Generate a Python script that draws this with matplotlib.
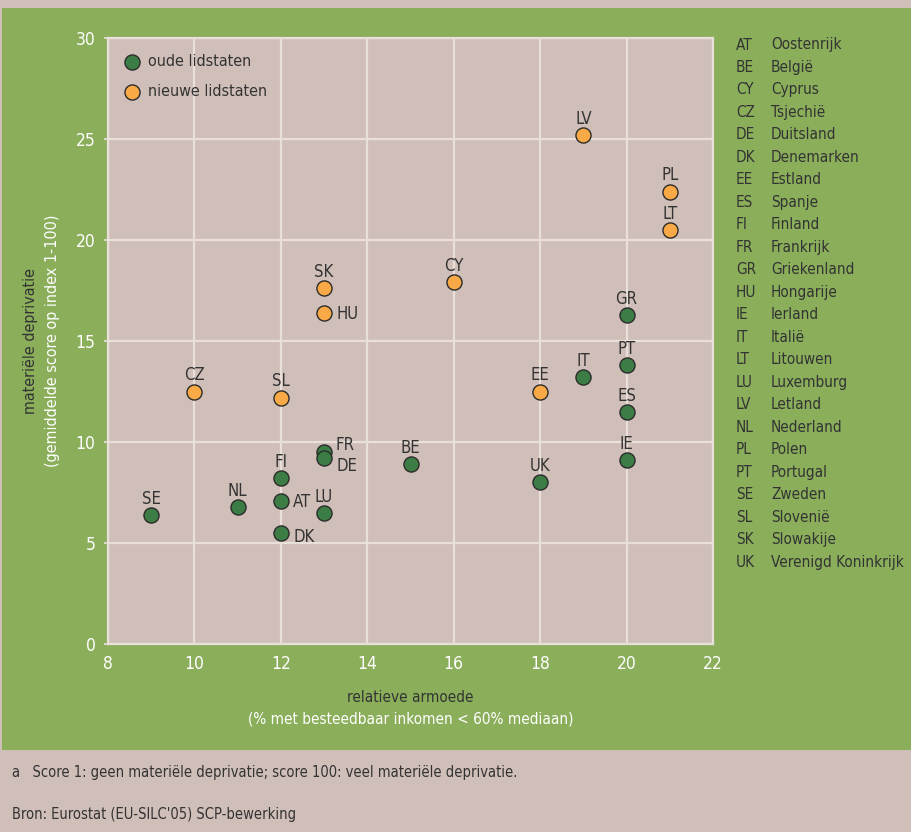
import matplotlib
matplotlib.use("Agg")
import matplotlib.pyplot as plt
from matplotlib.patches import Rectangle

plt.rcParams['font.family'] = ['DejaVu Sans']
plt.rcParams['font.stretch'] = 'condensed'

# ---- data ----
codes = ["SE", "NL", "FI", "AT", "DK", "LU", "FR", "DE", "BE", "UK", "IE", "ES", "PT", "GR", "IT",
         "CZ", "SL", "SK", "HU", "CY", "EE", "LV", "PL", "LT"]
armoede = [9, 11, 12, 12, 12, 13, 13, 13, 15, 18, 20, 20, 20, 20, 19,
           10, 12, 13, 13, 16, 18, 19, 21, 21]
deprivatie = [6.4, 6.8, 8.2, 7.1, 5.5, 6.5, 9.5, 9.2, 8.9, 8.0, 9.1, 11.5, 13.8, 16.3, 13.2,
              12.5, 12.2, 17.6, 16.4, 17.9, 12.5, 25.2, 22.4, 20.5]
groep = ["oud"] * 15 + ["nieuw"] * 9

legend_codes = ["AT", "BE", "CY", "CZ", "DE", "DK", "EE", "ES", "FI", "FR", "GR", "HU",
                "IE", "IT", "LT", "LU", "LV", "NL", "PL", "PT", "SE", "SL", "SK", "UK"]
legend_names = ["Oostenrijk", "België", "Cyprus", "Tsjechië", "Duitsland", "Denemarken",
                "Estland", "Spanje", "Finland", "Frankrijk", "Griekenland", "Hongarije",
                "Ierland", "Italië", "Litouwen", "Luxemburg", "Letland", "Nederland",
                "Polen", "Portugal", "Zweden", "Slovenië", "Slowakije", "Verenigd Koninkrijk"]

x_ticks = [8, 10, 12, 14, 16, 18, 20, 22]
y_ticks = [0, 5, 10, 15, 20, 25, 30]

# label placement (style): offsets in points
label_right = {"AT": (9, -1), "DK": (9, -3), "HU": (9, -1), "FR": (8, 5), "DE": (9, -6)}

# ---- style ----
GREEN_BG = "#8aae5a"
PINK = "#d0bfb8"
GRID = "#eae0da"
DARK = "#333333"
C_OLD = "#3b7d45"
C_NEW = "#f9aa46"
FS = 11.5

W, H = 911, 832
fig = plt.figure(figsize=(W / 100, H / 100), dpi=100)
fig.patch.set_facecolor(PINK)
bg = Rectangle((2 / W, (832 - 750) / H), 1, (750 - 8) / H,
               transform=fig.transFigure, facecolor=GREEN_BG,
               edgecolor="none", zorder=-10)
fig.patches.append(bg)

ax = fig.add_axes([108 / W, (832 - 644) / H, 605 / W, 606 / H])
ax.set_zorder(1)
ax.set_facecolor(PINK)
ax.set_xlim(8, 22)
ax.set_ylim(0, 30)
ax.set_xticks(x_ticks)
ax.set_yticks(y_ticks)
ax.grid(True, color=GRID, linewidth=1.6, zorder=1)
ax.set_axisbelow(True)
for s in ax.spines.values():
    s.set_color(GRID)
    s.set_linewidth(1.6)
ax.tick_params(axis="both", colors=GRID, labelcolor="white", labelsize=FS + 1, length=3, width=1.2)
ax.tick_params(axis="x", length=0, pad=8)
ax.tick_params(axis="y", pad=6)

for g, col, lab in [("oud", C_OLD, "oude lidstaten"), ("nieuw", C_NEW, "nieuwe lidstaten")]:
    xs = [x for x, gg in zip(armoede, groep) if gg == g]
    ys = [y for y, gg in zip(deprivatie, groep) if gg == g]
    ax.scatter(xs, ys, s=118, color=col, edgecolors="#2b2b2b", linewidths=1.0, zorder=3, label=lab)

for c, x, y in zip(codes, armoede, deprivatie):
    if c in label_right:
        dx, dy = label_right[c]
        ax.annotate(c, (x, y), xytext=(dx, dy), textcoords="offset points",
                    ha="left", va="center", fontsize=FS + 0.5, color=DARK, zorder=4)
    else:
        ax.annotate(c, (x, y), xytext=(0, 8), textcoords="offset points",
                    ha="center", va="baseline", fontsize=FS + 0.5, color=DARK, zorder=4)

leg = ax.legend(loc="upper left", frameon=False, fontsize=FS, handlelength=1.0,
                handletextpad=0.5, labelspacing=0.95, borderaxespad=0.6, scatterpoints=1,
                bbox_to_anchor=(0.0, 1.0))
for t in leg.get_texts():
    t.set_color(DARK)

# axis labels (two-coloured lines)
fig.text((108 + 713) / 2 / W, 1 - 697 / H, "relatieve armoede", ha="center", va="center",
         fontsize=FS - 0.5, color=DARK)
fig.text((108 + 713) / 2 / W, 1 - 719 / H, "(% met besteedbaar inkomen < 60% mediaan)",
         ha="center", va="center", fontsize=FS - 0.5, color="white")
fig.text(31 / W, 1 - 341 / H, "materiële deprivatie", ha="center", va="center",
         rotation=90, fontsize=FS, color=DARK)
fig.text(53 / W, 1 - 341 / H, "(gemiddelde score op index 1-100)", ha="center", va="center",
         rotation=90, fontsize=FS, color="white")

# country code legend
for i, (c, n) in enumerate(zip(legend_codes, legend_names)):
    yy = 1 - (45 + i * 22.48) / H
    fig.text(736 / W, yy, c, ha="left", va="center", fontsize=FS - 0.5, color=DARK)
    fig.text(771 / W, yy, n, ha="left", va="center", fontsize=FS - 0.5, color=DARK)

# footnotes
fig.text(12 / W, 1 - 772 / H, "a   Score 1: geen materiële deprivatie; score 100: veel materiële deprivatie.",
         ha="left", va="center", fontsize=FS - 1, color=DARK)
fig.text(12 / W, 1 - 815 / H, "Bron: Eurostat (EU-SILC'05) SCP-bewerking",
         ha="left", va="center", fontsize=FS - 1, color=DARK)

fig.savefig("out.png", dpi=100, facecolor=fig.get_facecolor())
